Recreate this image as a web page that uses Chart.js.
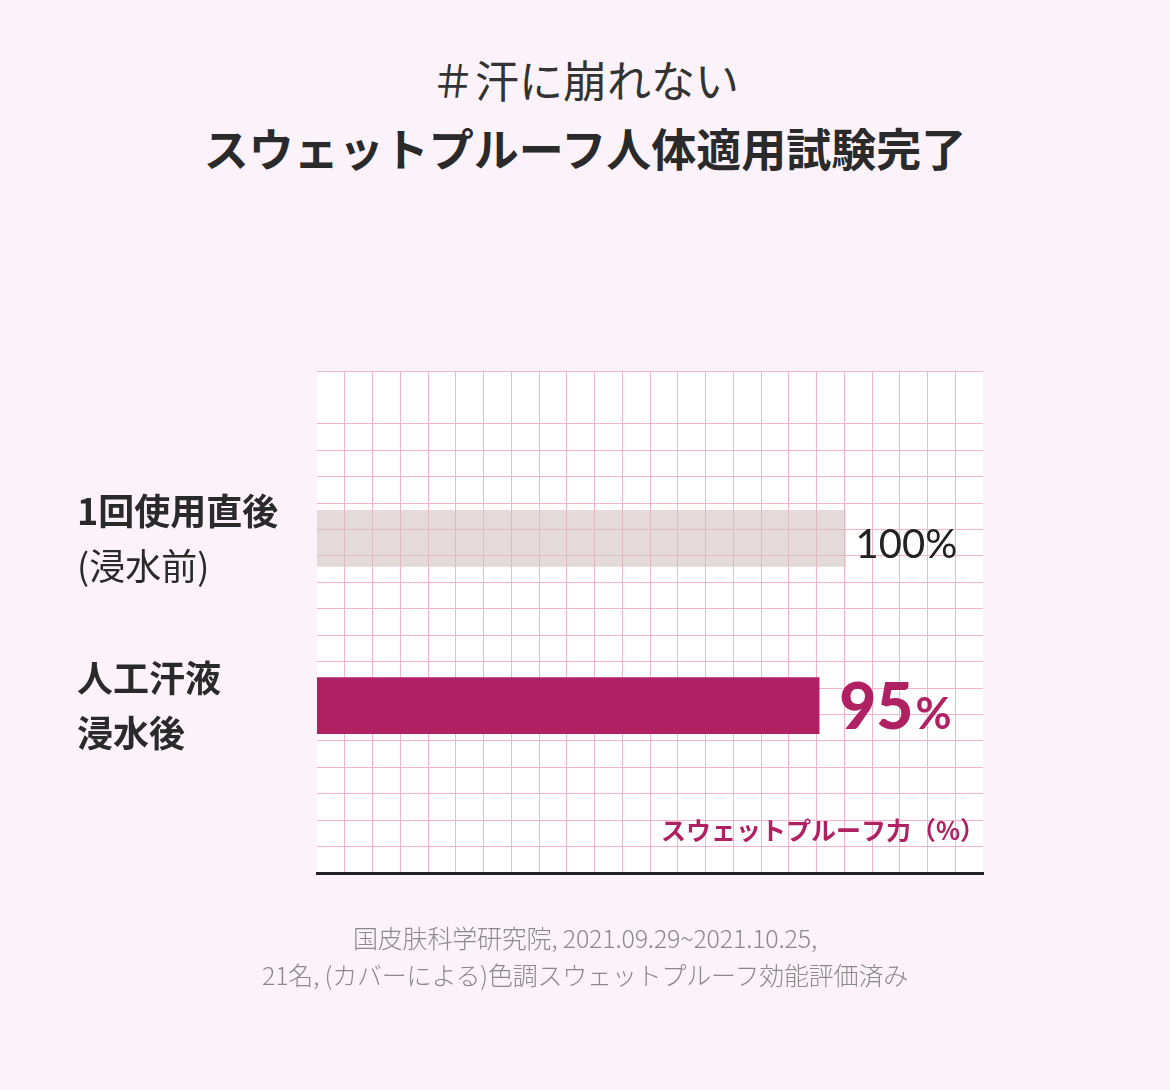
<!DOCTYPE html>
<html lang="ja">
<head>
<meta charset="utf-8">
<script src="https://cdn.jsdelivr.net/npm/chart.js@4"></script>
<style>
  html, body { margin: 0; padding: 0; }
  body {
    width: 1170px; height: 1090px; position: relative; overflow: hidden;
    background: #fcf3fa;
    font-family: "Noto Sans CJK JP", "Noto Sans", sans-serif;
  }
  .t1, .t2, .foot { position: absolute; left: 0; width: 1170px; text-align: center; }
  .t1 { top: 57px; font-size: 44px; line-height: 44px; font-weight: 400; color: #333; }
  .t2 { top: 125px; font-size: 45px; line-height: 45px; font-weight: 700; color: #2a2a2a; }
  .foot { top: 919px; font-size: 25px; line-height: 37px; font-weight: 300; color: #8a8a8a; letter-spacing: -0.2px; }
  #wrap { position: absolute; left: 0; top: 0; width: 1170px; height: 1090px; }
</style>
</head>
<body>
<div class="t1">＃汗に崩れない</div>
<div class="t2">スウェットプルーフ人体適用試験完了</div>
<div id="wrap"><canvas id="chart"></canvas></div>
<div class="foot">国皮肤科学研究院, 2021.09.29~2021.10.25,<br>21名, (カバーによる)色調スウェットプルーフ効能評価済み</div>

<script>
// categories (two lines each) and values
const categories = [['1回使用直後', '(浸水前)'], ['人工汗液', '浸水後']];
const values = [100, 95];
const valueLabels = ['100%', '95%'];
const axisTitle = 'スウェットプルーフ力（%）';

const GRAY = 'rgba(205,188,188,0.55)';
const MAGENTA = '#b02163';
const GRID = '#f1b4ca';

// pad one empty slot on each side so the bars sit at 1/3 and 2/3 of the height
const labels = ['', ...categories.map(c => c.join(' ')), ''];
const barData = [null, ...values, null];

const areaBg = {
    id: 'areaBg',
    beforeDraw(chart) {
        const { ctx, chartArea: a } = chart;
        ctx.save();
        ctx.fillStyle = '#ffffff';
        ctx.fillRect(a.left, a.top, a.right - a.left, a.bottom - a.top);
        ctx.restore();
    }
};

const texts = {
    id: 'texts',
    afterDatasetsDraw(chart) {
        const { ctx, scales, chartArea } = chart;
        const jp = '"Noto Sans CJK JP", sans-serif';
        ctx.save();
        ctx.textBaseline = 'middle';

        // category labels at the left
        categories.forEach((lines, i) => {
            const y = scales.y.getPixelForValue(i + 1);
            lines.forEach((line, j) => {
                const bold = !(i === 0 && j === 1);
                ctx.font = (bold ? '700 ' : '400 ') + '36px ' + jp;
                ctx.fillStyle = '#2a2a2a';
                ctx.textAlign = 'left';
                ctx.fillText(line, 77, y + (j === 0 ? -27 : 28));
            });
        });

        // value labels right of the bars
        values.forEach((v, i) => {
            const x = scales.x.getPixelForValue(v) + 10;
            const y = scales.y.getPixelForValue(i + 1);
            ctx.textAlign = 'left';
            ctx.textBaseline = 'alphabetic';
            if (i === 0) {
                ctx.font = '400 40px Lato, sans-serif';
                ctx.fillStyle = '#222';
                ctx.fillText(valueLabels[i], x, y + 20);
            } else {
                const num = valueLabels[i].replace('%', '');
                ctx.font = '900 64px Lato, sans-serif';
                ctx.fillStyle = MAGENTA;
                ctx.fillText(num, x + 10, y + 23);
                const w = ctx.measureText(num).width;
                ctx.font = '700 44px Lato, sans-serif';
                ctx.fillText('%', x + 12 + w, y + 23);
            }
            ctx.textBaseline = 'middle';
        });

        // axis title inside the plot, bottom right
        ctx.font = '700 25px ' + jp;
        ctx.fillStyle = MAGENTA;
        ctx.textAlign = 'right';
        ctx.fillText(axisTitle, chartArea.right + 2, 830);
        ctx.restore();
    }
};

const edgeless = (max) => (c) => {
    if (!c.tick) return GRID;
    return (c.tick.value === 0 || c.tick.value === max) ? 'rgba(0,0,0,0)' : GRID;
};

new Chart(document.getElementById('chart'), {
    type: 'bar',
    data: {
        labels: labels,
        datasets: [{
            data: barData,
            backgroundColor: [null, GRAY, MAGENTA, null],
            barThickness: 56,
            borderWidth: 0
        }]
    },
    options: {
        indexAxis: 'y',
        responsive: true,
        maintainAspectRatio: false,
        animation: false,
        layout: { padding: { left: 317, right: 187, top: 371, bottom: 217 } },
        plugins: { legend: { display: false }, tooltip: { enabled: false } },
        scales: {
            x: { display: false, min: 0, max: 126 },
            y: { display: false, offset: false },
            gx: {
                type: 'linear', axis: 'x', position: 'bottom', min: 0, max: 24,
                ticks: { display: false, stepSize: 1 },
                grid: { color: edgeless(24), lineWidth: 1, drawTicks: false },
                border: { display: true, color: '#222', width: 3 }
            },
            gy: {
                type: 'linear', axis: 'y', position: 'left', min: 0, max: 18,
                ticks: { display: false, stepSize: 1 },
                grid: { color: edgeless(18), lineWidth: 1, drawTicks: false },
                border: { display: false }
            }
        }
    },
    plugins: [areaBg, texts]
});
</script>
</body>
</html>
